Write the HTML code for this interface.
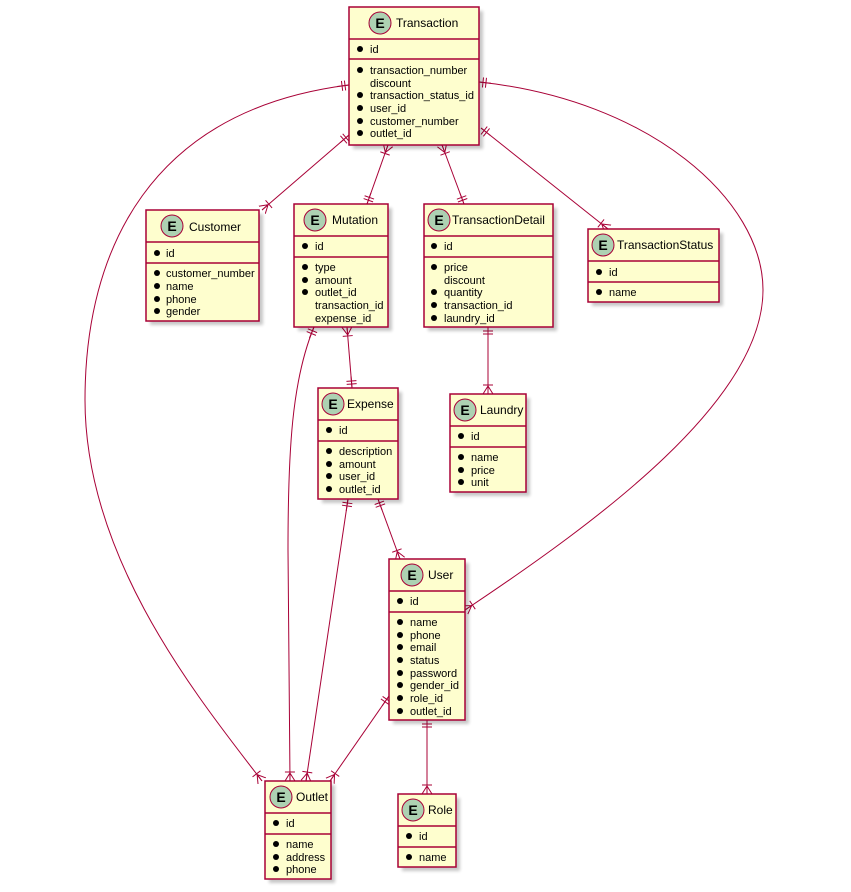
<!DOCTYPE html>
<html><head><meta charset="utf-8"><style>
html,body{margin:0;padding:0;background:#fff;}
svg{display:block;}
text{font-family:"Liberation Sans",sans-serif;fill:#000;}
.f{font-size:11px;}
.t{font-size:12px;}
.box{fill:#FEFECE;stroke:#A80036;stroke-width:1.5;}
.sh{fill:#000;opacity:.22;filter:url(#bl);}
.ln{stroke:#A80036;stroke-width:1.5;}
.c{fill:#ADD1B2;stroke:#A80036;stroke-width:1;}
.E{font-size:14px;font-weight:bold;}
.e{fill:none;stroke:#A80036;stroke-width:1;}
</style></head><body>
<svg width="851" height="892" viewBox="0 0 851 892" xmlns="http://www.w3.org/2000/svg">
<defs>
<filter id="bl"><feGaussianBlur stdDeviation="1.6"/></filter>
<marker id="cf" viewBox="0 0 12 12" refX="12" refY="6" markerWidth="12" markerHeight="12" markerUnits="userSpaceOnUse" orient="auto">
<path d="M3,1 V11 M4,6 L12,1 M4,6 L12,11 M4,6 L12,6" fill="none" stroke="#A80036" stroke-width="1"/>
</marker>
<marker id="cfs" viewBox="0 0 12 12" refX="12" refY="6" markerWidth="12" markerHeight="12" markerUnits="userSpaceOnUse" orient="auto-start-reverse">
<path d="M3,1 V11 M4,6 L12,1 M4,6 L12,11 M4,6 L12,6" fill="none" stroke="#A80036" stroke-width="1"/>
</marker>
<marker id="bb" viewBox="0 0 12 12" refX="12" refY="6" markerWidth="12" markerHeight="12" markerUnits="userSpaceOnUse" orient="auto-start-reverse">
<path d="M5,1 V11 M8,1 V11 M0,6 H12" fill="none" stroke="#A80036" stroke-width="1"/>
</marker>
</defs>

<path class="e" d="M349,85 C 150,110 85,250 85,400 C 85,560 200,700 262,781" marker-start="url(#bb)" marker-end="url(#cf)"/>
<path class="e" d="M479,82 C 650,100 763,200 763,290 C 763,400 600,520 465,610" marker-start="url(#bb)" marker-end="url(#cf)"/>
<path class="e" d="M349,135 L262,210" marker-start="url(#bb)" marker-end="url(#cf)"/>
<path class="e" d="M388,145 L367,204" marker-start="url(#cfs)" marker-end="url(#bb)"/>
<path class="e" d="M442,145 L464,204" marker-start="url(#cfs)" marker-end="url(#bb)"/>
<path class="e" d="M481,128 L608,229" marker-start="url(#bb)" marker-end="url(#cf)"/>
<path class="e" d="M347,327 L352,388" marker-start="url(#cfs)" marker-end="url(#bb)"/>
<path class="e" d="M314,327 C 292,380 288,450 288,550 L 290,781" marker-start="url(#bb)" marker-end="url(#cf)"/>
<path class="e" d="M348,499 L306,781" marker-start="url(#bb)" marker-end="url(#cf)"/>
<path class="e" d="M378,499 L400,559" marker-start="url(#bb)" marker-end="url(#cf)"/>
<path class="e" d="M488,327 L488,394" marker-start="url(#bb)" marker-end="url(#cf)"/>
<path class="e" d="M389,696 L330,781" marker-start="url(#bb)" marker-end="url(#cf)"/>
<path class="e" d="M427,720 L427,794" marker-start="url(#bb)" marker-end="url(#cf)"/>

<rect class="sh" x="353" y="11" width="130" height="138"/>
<rect class="box" x="349" y="7" width="130" height="138"/>
<circle class="c" cx="380" cy="23" r="11"/><text class="E" x="380" y="28" text-anchor="middle">E</text>
<text class="t" x="396" y="27">Transaction</text>
<line class="ln" x1="349" y1="39" x2="479" y2="39"/><line class="ln" x1="349" y1="59" x2="479" y2="59"/>
<circle cx="360" cy="49" r="3"/><text class="f" x="370" y="53">id</text>
<circle cx="360" cy="70" r="3"/><text class="f" x="370" y="74">transaction_number</text>
<text class="f" x="370" y="87">discount</text>
<circle cx="360" cy="95" r="3"/><text class="f" x="370" y="99">transaction_status_id</text>
<circle cx="360" cy="108" r="3"/><text class="f" x="370" y="112">user_id</text>
<circle cx="360" cy="121" r="3"/><text class="f" x="370" y="125">customer_number</text>
<circle cx="360" cy="133" r="3"/><text class="f" x="370" y="137">outlet_id</text>

<rect class="sh" x="150" y="214" width="113" height="111"/>
<rect class="box" x="146" y="210" width="113" height="111"/>
<circle class="c" cx="172" cy="226" r="11"/><text class="E" x="172" y="231" text-anchor="middle">E</text>
<text class="t" x="189" y="231">Customer</text>
<line class="ln" x1="146" y1="242" x2="259" y2="242"/><line class="ln" x1="146" y1="263" x2="259" y2="263"/>
<circle cx="157" cy="253" r="3"/><text class="f" x="166" y="257">id</text>
<circle cx="157" cy="273" r="3"/><text class="f" x="166" y="277">customer_number</text>
<circle cx="157" cy="286" r="3"/><text class="f" x="166" y="290">name</text>
<circle cx="157" cy="299" r="3"/><text class="f" x="166" y="303">phone</text>
<circle cx="157" cy="311" r="3"/><text class="f" x="166" y="315">gender</text>

<rect class="sh" x="298" y="208" width="94" height="123"/>
<rect class="box" x="294" y="204" width="94" height="123"/>
<circle class="c" cx="315" cy="220" r="11"/><text class="E" x="315" y="225" text-anchor="middle">E</text>
<text class="t" x="332" y="224">Mutation</text>
<line class="ln" x1="294" y1="236" x2="388" y2="236"/><line class="ln" x1="294" y1="257" x2="388" y2="257"/>
<circle cx="305" cy="246" r="3"/><text class="f" x="315" y="250">id</text>
<circle cx="305" cy="267" r="3"/><text class="f" x="315" y="271">type</text>
<circle cx="305" cy="280" r="3"/><text class="f" x="315" y="284">amount</text>
<circle cx="305" cy="292" r="3"/><text class="f" x="315" y="296">outlet_id</text>
<text class="f" x="315" y="309">transaction_id</text>
<text class="f" x="315" y="322">expense_id</text>

<rect class="sh" x="428" y="208" width="129" height="123"/>
<rect class="box" x="424" y="204" width="129" height="123"/>
<circle class="c" cx="439" cy="220" r="11"/><text class="E" x="439" y="225" text-anchor="middle">E</text>
<text class="t" x="452" y="224">TransactionDetail</text>
<line class="ln" x1="424" y1="236" x2="553" y2="236"/><line class="ln" x1="424" y1="257" x2="553" y2="257"/>
<circle cx="434" cy="246" r="3"/><text class="f" x="444" y="250">id</text>
<circle cx="434" cy="267" r="3"/><text class="f" x="444" y="271">price</text>
<text class="f" x="444" y="284">discount</text>
<circle cx="434" cy="292" r="3"/><text class="f" x="444" y="296">quantity</text>
<circle cx="434" cy="305" r="3"/><text class="f" x="444" y="309">transaction_id</text>
<circle cx="434" cy="318" r="3"/><text class="f" x="444" y="322">laundry_id</text>

<rect class="sh" x="592" y="233" width="131" height="73"/>
<rect class="box" x="588" y="229" width="131" height="73"/>
<circle class="c" cx="603" cy="245" r="11"/><text class="E" x="603" y="250" text-anchor="middle">E</text>
<text class="t" x="617" y="249">TransactionStatus</text>
<line class="ln" x1="588" y1="261" x2="719" y2="261"/><line class="ln" x1="588" y1="282" x2="719" y2="282"/>
<circle cx="599" cy="272" r="3"/><text class="f" x="609" y="276">id</text>
<circle cx="599" cy="292" r="3"/><text class="f" x="609" y="296">name</text>

<rect class="sh" x="322" y="392" width="80" height="111"/>
<rect class="box" x="318" y="388" width="80" height="111"/>
<circle class="c" cx="333" cy="404" r="11"/><text class="E" x="333" y="409" text-anchor="middle">E</text>
<text class="t" x="347" y="408">Expense</text>
<line class="ln" x1="318" y1="420" x2="398" y2="420"/><line class="ln" x1="318" y1="441" x2="398" y2="441"/>
<circle cx="329" cy="430" r="3"/><text class="f" x="339" y="434">id</text>
<circle cx="329" cy="451" r="3"/><text class="f" x="339" y="455">description</text>
<circle cx="329" cy="464" r="3"/><text class="f" x="339" y="468">amount</text>
<circle cx="329" cy="476" r="3"/><text class="f" x="339" y="480">user_id</text>
<circle cx="329" cy="489" r="3"/><text class="f" x="339" y="493">outlet_id</text>

<rect class="sh" x="454" y="398" width="76" height="98"/>
<rect class="box" x="450" y="394" width="76" height="98"/>
<circle class="c" cx="465" cy="410" r="11"/><text class="E" x="465" y="415" text-anchor="middle">E</text>
<text class="t" x="480" y="414">Laundry</text>
<line class="ln" x1="450" y1="426" x2="526" y2="426"/><line class="ln" x1="450" y1="447" x2="526" y2="447"/>
<circle cx="461" cy="436" r="3"/><text class="f" x="471" y="440">id</text>
<circle cx="461" cy="457" r="3"/><text class="f" x="471" y="461">name</text>
<circle cx="461" cy="470" r="3"/><text class="f" x="471" y="474">price</text>
<circle cx="461" cy="482" r="3"/><text class="f" x="471" y="486">unit</text>

<rect class="sh" x="393" y="563" width="76" height="161"/>
<rect class="box" x="389" y="559" width="76" height="161"/>
<circle class="c" cx="412" cy="575" r="11"/><text class="E" x="412" y="580" text-anchor="middle">E</text>
<text class="t" x="428" y="579">User</text>
<line class="ln" x1="389" y1="591" x2="465" y2="591"/><line class="ln" x1="389" y1="612" x2="465" y2="612"/>
<circle cx="400" cy="601" r="3"/><text class="f" x="410" y="605">id</text>
<circle cx="400" cy="622" r="3"/><text class="f" x="410" y="626">name</text>
<circle cx="400" cy="635" r="3"/><text class="f" x="410" y="639">phone</text>
<circle cx="400" cy="647" r="3"/><text class="f" x="410" y="651">email</text>
<circle cx="400" cy="660" r="3"/><text class="f" x="410" y="664">status</text>
<circle cx="400" cy="673" r="3"/><text class="f" x="410" y="677">password</text>
<circle cx="400" cy="685" r="3"/><text class="f" x="410" y="689">gender_id</text>
<circle cx="400" cy="698" r="3"/><text class="f" x="410" y="702">role_id</text>
<circle cx="400" cy="711" r="3"/><text class="f" x="410" y="715">outlet_id</text>

<rect class="sh" x="269" y="785" width="66" height="98"/>
<rect class="box" x="265" y="781" width="66" height="98"/>
<circle class="c" cx="281" cy="797" r="11"/><text class="E" x="281" y="802" text-anchor="middle">E</text>
<text class="t" x="296" y="801">Outlet</text>
<line class="ln" x1="265" y1="813" x2="331" y2="813"/><line class="ln" x1="265" y1="834" x2="331" y2="834"/>
<circle cx="276" cy="823" r="3"/><text class="f" x="286" y="827">id</text>
<circle cx="276" cy="844" r="3"/><text class="f" x="286" y="848">name</text>
<circle cx="276" cy="857" r="3"/><text class="f" x="286" y="861">address</text>
<circle cx="276" cy="869" r="3"/><text class="f" x="286" y="873">phone</text>

<rect class="sh" x="402" y="798" width="58" height="73"/>
<rect class="box" x="398" y="794" width="58" height="73"/>
<circle class="c" cx="413" cy="810" r="11"/><text class="E" x="413" y="815" text-anchor="middle">E</text>
<text class="t" x="428" y="814">Role</text>
<line class="ln" x1="398" y1="826" x2="456" y2="826"/><line class="ln" x1="398" y1="847" x2="456" y2="847"/>
<circle cx="409" cy="836" r="3"/><text class="f" x="419" y="840">id</text>
<circle cx="409" cy="857" r="3"/><text class="f" x="419" y="861">name</text>
</svg>
</body></html>
